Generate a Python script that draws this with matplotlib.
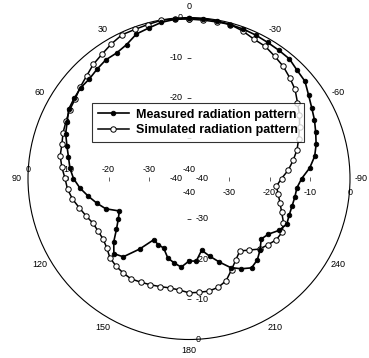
import numpy as np
import matplotlib
matplotlib.use("Agg")
import matplotlib.pyplot as plt
from matplotlib.transforms import offset_copy

plt.rcParams['font.family'] = ['Liberation Sans', 'DejaVu Sans']

# ---------------- data ----------------
angles_deg = [0, 5, 10, 15, 20, 25, 30, 35, 40, 45, 50, 55, 60, 65, 70, 75, 80, 85,
              90, 95, 100, 105, 110, 115, 120, 125, 130, 135, 140, 145, 150, 155, 160, 165,
              170, 175, 180, 185, 190, 195, 200, 205, 210, 215, 220, 225, 230, 235, 240, 245,
              250, 255, 260, 265, 270, 275, 280, 285, 290, 295, 300, 305, 310, 315, 320, 325,
              330, 335, 340, 345, 350, 355]

measured_db = [-0.2, -0.3, -0.6, -1.3, -1.8, -3.3, -4.0, -4.0, -4.5, -5.0, -4.9, -5.2,
               -5.5, -6.6, -7.4, -8.6, -9.6, -10.3,
               -11.3, -12.8, -14.6, -16.3, -18.0, -20.9, -19.7, -18.0, -15.6, -13.6, -14.6, -18.6,
               -22.4, -21.9, -21.6, -19.6, -18.7, -17.9, -19.5, -19.4, -21.9, -20.0, -17.9, -15.6,
               -14.1, -12.9, -13.6, -15.0, -16.6, -15.9, -14.2, -13.2, -13.5, -13.5, -13.3, -13.1,
               -12.0, -9.9, -8.3, -7.3, -6.5, -5.6, -4.8, -3.75, -2.4, -2.0, -1.2, -1.1,
               -0.95, -0.7, -0.5, -0.4, -0.2, -0.2]

simulated_db = [-0.4, -0.2, -0.1, -0.4, -0.6, -0.6, -1.4, -2.3, -3.0, -4.0, -4.7, -5.5,
                -5.8, -6.3, -6.7, -7.3, -7.5, -8.3,
                -9.2, -9.7, -10.6, -11.8, -12.8, -13.7, -13.9, -13.9, -13.3, -12.2, -11.7, -11.4,
                -11.2, -11.6, -11.9, -12.2, -12.4, -12.2, -11.6, -11.6, -11.6, -12.0, -13.0, -15.0,
                -16.7, -18.0, -16.8, -15.2, -14.4, -13.5, -13.3, -14.1, -15.5, -16.6, -17.5, -18.2,
                -17.0, -15.2, -13.7, -12.2, -11.0, -9.7, -8.3, -7.1, -5.6, -4.6, -3.6, -2.9,
                -2.1, -1.8, -1.0, -0.4, -0.5, -0.5]

angle_ticks = [0, 30, 60, 90, 120, 150, 180, 210, 240, 270, 300, 330]
angle_labels = ["0", "30", "60", "90", "120", "150", "180", "210", "240", "-90", "-60", "-30"]

r_ticks = [-40, -30, -20, -10, 0]
r_labels = ["-40", "-30", "-20", "-10", "0"]

legend_labels = ["Measured radiation pattern", "Simulated radiation pattern"]

# ---------------- figure ----------------
W, H = 369, 358
fig = plt.figure(figsize=(W / 100, H / 100), dpi=100)
cx, cy, R = 189.0, 178.5, 161.0
ax = fig.add_axes([(cx - R) / W, (H - cy - R) / H, 2 * R / W, 2 * R / H], projection='polar')
ax.set_theta_zero_location('N')
ax.set_theta_direction(1)
ax.set_ylim(-40, 0)
ax.grid(False)
ax.set_yticks([])
ax.spines['polar'].set_linewidth(0.8)
ax.spines['polar'].set_color('black')

ax.set_xticks(np.deg2rad(angle_ticks))
ax.set_xticklabels(angle_labels)
ax.tick_params(axis='x', labelsize=6.5, pad=-1.5, direction='inout', length=5, width=0.7,
               colors='black')

# closed curves
th = np.deg2rad(angles_deg + [angles_deg[0]])
m = measured_db + [measured_db[0]]
s = simulated_db + [simulated_db[0]]

l1, = ax.plot(th, m, color='black', lw=1.2, marker='o', ms=3.3, mfc='black', mec='black',
              mew=0.6, zorder=4, clip_on=False)
l2, = ax.plot(th, s, color='black', lw=1.1, marker='o', ms=3.9, mfc='white', mec='black',
              mew=0.7, zorder=3, clip_on=False)

# radial tick labels along the four axes (the top -30 lies under the legend)
axis_specs = [
    (0, -6, 0, 'right', 'center', '_', {-30}),
    (180, 7, 0, 'left', 'center', '_', set()),
    (90, 0, 9, 'center', 'center', '|', set()),
    (270, 0, -14, 'center', 'center', '|', set()),
]
for ang, ox, oy, ha, va, mk, hidden in axis_specs:
    tr = offset_copy(ax.transData, fig=fig, x=ox, y=oy, units='dots')
    for rv, lab in zip(r_ticks, r_labels):
        if rv in hidden:
            continue
        ax.text(np.deg2rad(ang), rv, lab, transform=tr, ha=ha, va=va, fontsize=6.5, zorder=1)
    ax.plot(np.deg2rad([ang] * 3), r_ticks[1:4], ls='none', marker=mk, ms=3, mew=0.6,
            color='#444444', zorder=1)

leg = fig.legend([l1, l2], legend_labels, loc='upper left',
                 bbox_to_anchor=(92 / W, 1 - 103 / H), frameon=True, fancybox=False,
                 prop={'weight': 'bold', 'size': 9.0}, handlelength=2.5, handletextpad=0.6,
                 borderpad=0.45, labelspacing=0.3, borderaxespad=0)
leg.get_frame().set_edgecolor('black')
leg.get_frame().set_linewidth(0.8)
leg.set_zorder(10)

fig.savefig("out.png", dpi=100)
